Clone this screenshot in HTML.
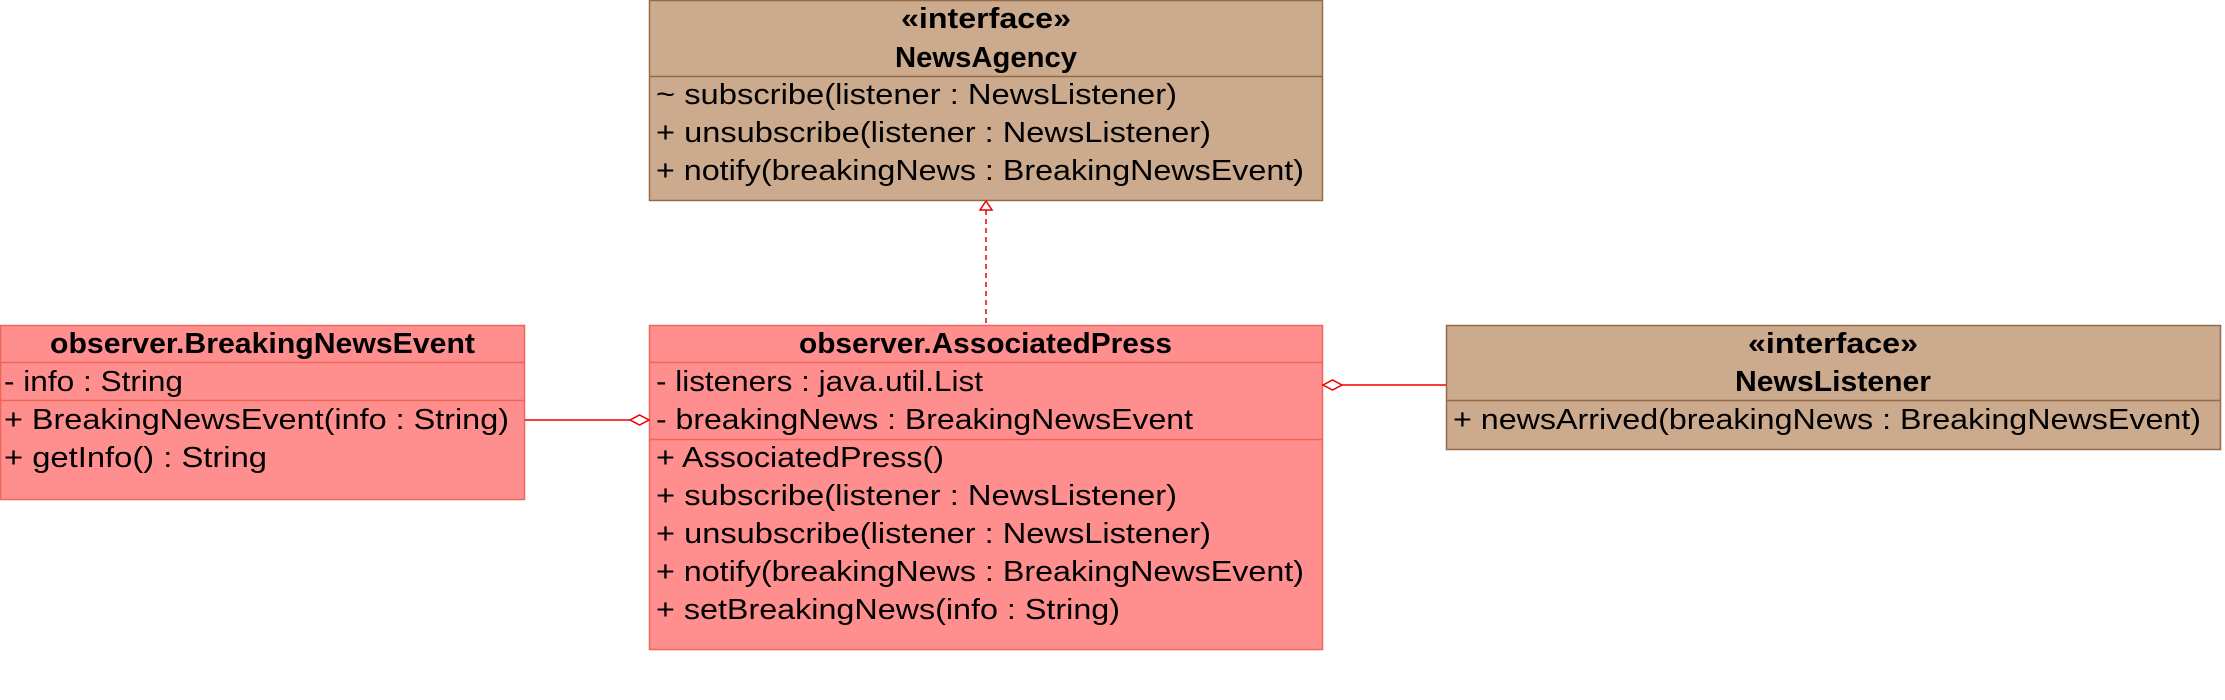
<!DOCTYPE html>
<html><head><meta charset="utf-8"><style>
html,body{margin:0;padding:0;background:#fff;}
svg{display:block;}
text{font-family:"Liberation Sans",sans-serif;font-size:29px;fill:#000;}
.b{font-weight:bold;}
</style></head><body>
<svg width="2225" height="700" viewBox="0 0 2225 700" xmlns="http://www.w3.org/2000/svg">
<!-- NewsAgency -->
<rect x="649.5" y="0.5" width="673" height="200" fill="#CCAA8E" stroke="#946A48" stroke-width="1.5"/>
<line x1="649" y1="76.5" x2="1323" y2="76.5" stroke="#946A48" stroke-width="1.5"/>
<text class="b" x="901" y="28" textLength="170" lengthAdjust="spacingAndGlyphs">«interface»</text>
<text class="b" x="895" y="67" textLength="182" lengthAdjust="spacingAndGlyphs">NewsAgency</text>
<text x="656" y="104" textLength="521" lengthAdjust="spacingAndGlyphs">~ subscribe(listener : NewsListener)</text>
<text x="656" y="142" textLength="555" lengthAdjust="spacingAndGlyphs">+ unsubscribe(listener : NewsListener)</text>
<text x="656" y="180" textLength="648" lengthAdjust="spacingAndGlyphs">+ notify(breakingNews : BreakingNewsEvent)</text>

<!-- realization -->
<line x1="986" y1="210" x2="986" y2="325" stroke="#E00" stroke-width="1.5" stroke-dasharray="5,4"/>
<polygon points="986,201 980,210 992,210" fill="#fff" stroke="#E00" stroke-width="1.5"/>

<!-- BreakingNewsEvent -->
<rect x="0.5" y="325.5" width="524" height="174" fill="#FF8F8F" stroke="#EE6655" stroke-width="1.5"/>
<line x1="0" y1="362.5" x2="525" y2="362.5" stroke="#EE6655" stroke-width="1.5"/>
<line x1="0" y1="400.5" x2="525" y2="400.5" stroke="#EE6655" stroke-width="1.5"/>
<text class="b" x="50" y="353" textLength="425" lengthAdjust="spacingAndGlyphs">observer.BreakingNewsEvent</text>
<text x="4" y="391" textLength="179" lengthAdjust="spacingAndGlyphs">- info : String</text>
<text x="4" y="429" textLength="505" lengthAdjust="spacingAndGlyphs">+ BreakingNewsEvent(info : String)</text>
<text x="4" y="467" textLength="263" lengthAdjust="spacingAndGlyphs">+ getInfo() : String</text>

<!-- AssociatedPress -->
<rect x="649.5" y="325.5" width="673" height="324" fill="#FF8F8F" stroke="#EE6655" stroke-width="1.5"/>
<line x1="649" y1="362.5" x2="1323" y2="362.5" stroke="#EE6655" stroke-width="1.5"/>
<line x1="649" y1="439.5" x2="1323" y2="439.5" stroke="#EE6655" stroke-width="1.5"/>
<text class="b" x="799" y="353" textLength="373" lengthAdjust="spacingAndGlyphs">observer.AssociatedPress</text>
<text x="656" y="391" textLength="327" lengthAdjust="spacingAndGlyphs">- listeners : java.util.List</text>
<text x="656" y="429" textLength="537" lengthAdjust="spacingAndGlyphs">- breakingNews : BreakingNewsEvent</text>
<text x="656" y="467" textLength="288" lengthAdjust="spacingAndGlyphs">+ AssociatedPress()</text>
<text x="656" y="505" textLength="521" lengthAdjust="spacingAndGlyphs">+ subscribe(listener : NewsListener)</text>
<text x="656" y="543" textLength="555" lengthAdjust="spacingAndGlyphs">+ unsubscribe(listener : NewsListener)</text>
<text x="656" y="581" textLength="648" lengthAdjust="spacingAndGlyphs">+ notify(breakingNews : BreakingNewsEvent)</text>
<text x="656" y="619" textLength="464" lengthAdjust="spacingAndGlyphs">+ setBreakingNews(info : String)</text>

<!-- aggregation left -->
<line x1="525" y1="420" x2="630" y2="420" stroke="#E00" stroke-width="1.5"/>
<polygon points="630,420 639.5,415 649,420 639.5,425" fill="#fff" stroke="#E00" stroke-width="1.5"/>

<!-- NewsListener -->
<rect x="1446.5" y="325.5" width="774" height="124" fill="#CCAA8E" stroke="#946A48" stroke-width="1.5"/>
<line x1="1446" y1="400.5" x2="2221" y2="400.5" stroke="#946A48" stroke-width="1.5"/>
<text class="b" x="1748" y="353" textLength="170" lengthAdjust="spacingAndGlyphs">«interface»</text>
<text class="b" x="1735" y="391" textLength="196" lengthAdjust="spacingAndGlyphs">NewsListener</text>
<text x="1453" y="429" textLength="748" lengthAdjust="spacingAndGlyphs">+ newsArrived(breakingNews : BreakingNewsEvent)</text>

<!-- aggregation right -->
<line x1="1342" y1="385" x2="1446" y2="385" stroke="#E00" stroke-width="1.5"/>
<polygon points="1323,385 1332.5,380 1342,385 1332.5,390" fill="#fff" stroke="#E00" stroke-width="1.5"/>
</svg>
</body></html>
